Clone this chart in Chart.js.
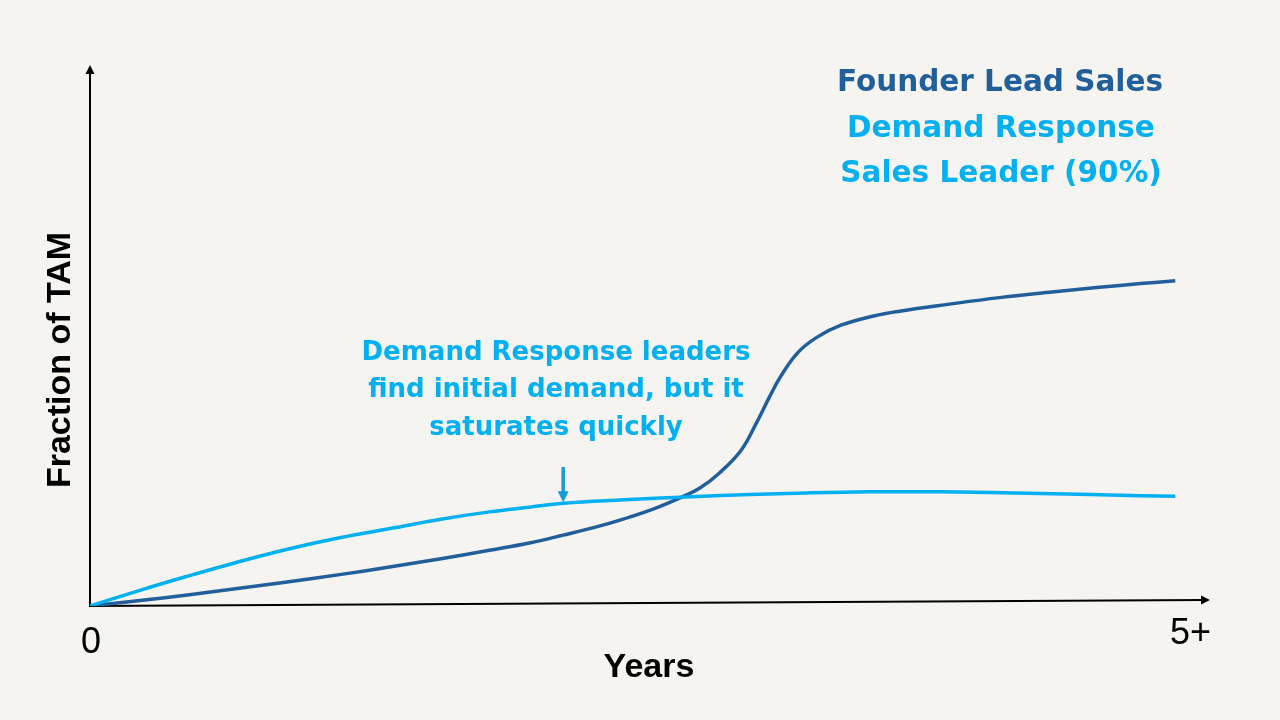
<!DOCTYPE html>
<html>
<head>
<meta charset="utf-8">
<script src="https://cdn.jsdelivr.net/npm/chart.js@4"></script>
<style>
  html, body { margin: 0; padding: 0; background: #f5f4f1; }
  #wrap { width: 1280px; height: 720px; position: relative; }
</style>
</head>
<body>
<div id="wrap"><canvas id="chart"></canvas></div>
<script>
// years since start, fraction of TAM
const founderYears = [0, 0.23, 0.44, 0.67, 0.90, 1.15, 1.38, 1.61, 1.84, 2.03, 2.18, 2.35, 2.46, 2.60, 2.73, 2.81, 2.90, 3.00, 3.07, 3.13, 3.18, 3.26, 3.35, 3.46, 3.61, 3.73, 3.96, 4.19, 4.42, 4.65, 4.84, 5.00];
const founderShare = [0, 0.010, 0.020, 0.032, 0.044, 0.058, 0.072, 0.087, 0.103, 0.117, 0.131, 0.148, 0.161, 0.180, 0.202, 0.218, 0.246, 0.288, 0.338, 0.386, 0.423, 0.468, 0.497, 0.519, 0.536, 0.545, 0.558, 0.570, 0.580, 0.589, 0.596, 0.601];

const demandYears = [0, 0.23, 0.44, 0.67, 0.90, 1.15, 1.41, 1.61, 1.84, 2.03, 2.18, 2.44, 2.77, 3.04, 3.30, 3.59, 3.92, 4.38, 4.84, 5.00];
const demandShare = [0, 0.029, 0.054, 0.080, 0.104, 0.126, 0.145, 0.160, 0.174, 0.183, 0.190, 0.196, 0.202, 0.206, 0.209, 0.211, 0.211, 0.208, 0.204, 0.203];

const xTickValues = [0, 5.07];
const xTickLabels = ['0', '5+'];

const titleLines = ['Founder Lead Sales', 'Demand Response', 'Sales Leader (90%)'];
const noteLines = ['Demand Response leaders', 'find initial demand, but it', 'saturates quickly'];
const noteArrow = { x: 2.18, from: 0.257, to: 0.192 };

const DARK = '#215f9a';
const LIGHT = '#00b0f0';
const BOLD = '"DejaVu Sans", sans-serif';

const toPoints = (xs, ys) => xs.map((v, i) => ({ x: v, y: ys[i] }));

const arrowHead = (ctx, tx, ty, angle, len, half) => {
    ctx.save();
    ctx.translate(tx, ty);
    ctx.rotate(angle);
    ctx.beginPath();
    ctx.moveTo(0, 0);
    ctx.lineTo(-len, -half);
    ctx.lineTo(-len, half);
    ctx.closePath();
    ctx.fill();
    ctx.restore();
};

const decor = {
    id: 'decor',
    beforeDraw(chart) {
        const ctx = chart.ctx;
        ctx.save();
        ctx.fillStyle = '#f5f4f1';
        ctx.fillRect(0, 0, chart.width, chart.height);
        ctx.restore();
    },
    beforeDatasetsDraw(chart) {
        const { ctx, scales: { x, y } } = chart;
        const x0 = x.getPixelForValue(0), y0 = y.getPixelForValue(0);
        const yTop = y.getPixelForValue(y.max);
        const xEnd = x.getPixelForValue(x.max), yEnd = y.getPixelForValue(0.011);
        ctx.save();
        ctx.strokeStyle = '#000';
        ctx.fillStyle = '#000';
        ctx.lineWidth = 2;
        ctx.beginPath();
        ctx.moveTo(x0, y0 + 1);
        ctx.lineTo(x0, yTop + 6);
        ctx.stroke();
        arrowHead(ctx, x0, yTop, -Math.PI / 2, 9, 4.5);
        const ang = Math.atan2(yEnd - y0, xEnd - x0);
        ctx.beginPath();
        ctx.moveTo(x0 - 1, y0);
        ctx.lineTo(xEnd - 6 * Math.cos(ang), yEnd - 6 * Math.sin(ang));
        ctx.stroke();
        arrowHead(ctx, xEnd, yEnd, ang, 9, 4.5);
        ctx.restore();
    },
    afterDraw(chart) {
        const { ctx, scales: { x, y } } = chart;
        const y0 = y.getPixelForValue(0);
        ctx.save();
        ctx.textAlign = 'center';
        ctx.textBaseline = 'middle';

        // tick labels
        ctx.fillStyle = '#000';
        ctx.font = '36px "Liberation Sans", Arial, sans-serif';
        ctx.fillText(xTickLabels[0], x.getPixelForValue(xTickValues[0]) + 1, y0 + 37);
        ctx.fillText(xTickLabels[1], x.getPixelForValue(xTickValues[1]), y0 + 28);

        // axis titles
        ctx.font = 'bold 34px "Liberation Sans", Arial, sans-serif';
        ctx.fillText('Years', 649, 668);
        ctx.save();
        ctx.translate(61, 360);
        ctx.rotate(-Math.PI / 2);
        ctx.fillText('Fraction of TAM', 0, 0);
        ctx.restore();

        // legend-like title block
        ctx.font = 'bold 29.5px ' + BOLD;
        ctx.fillStyle = DARK;
        ctx.fillText(titleLines[0], 1000, 83);
        ctx.fillStyle = LIGHT;
        ctx.fillText(titleLines[1], 1001, 129);
        ctx.fillText(titleLines[2], 1001, 174);

        // annotation
        ctx.font = 'bold 26px ' + BOLD;
        noteLines.forEach((t, i) => ctx.fillText(t, 556, 353 + i * 37.5));

        const ax = x.getPixelForValue(noteArrow.x);
        const ay1 = y.getPixelForValue(noteArrow.from), ay2 = y.getPixelForValue(noteArrow.to);
        ctx.strokeStyle = '#159bd7';
        ctx.fillStyle = '#159bd7';
        ctx.lineWidth = 3.5;
        ctx.beginPath();
        ctx.moveTo(ax, ay1);
        ctx.lineTo(ax, ay2 - 8);
        ctx.stroke();
        arrowHead(ctx, ax, ay2, Math.PI / 2, 11, 5.5);
        ctx.restore();
    }
};

new Chart(document.getElementById('chart').getContext('2d'), {
    type: 'line',
    data: {
        datasets: [
            { label: 'Demand Response Sales Leader (90%)', data: toPoints(demandYears, demandShare), borderColor: LIGHT, order: 0 },
            { label: 'Founder Lead Sales', data: toPoints(founderYears, founderShare), borderColor: DARK, order: 1 }
        ]
    },
    options: {
        responsive: true,
        maintainAspectRatio: false,
        animation: false,
        layout: { padding: { left: 90, right: 70, top: 65, bottom: 114 } },
        elements: {
            point: { radius: 0 },
            line: { borderWidth: 3.5, tension: 0.4, fill: false }
        },
        scales: {
            x: { type: 'linear', min: 0, max: 5.16, display: false },
            y: { type: 'linear', min: 0, max: 1, display: false }
        },
        plugins: { legend: false, tooltip: { enabled: false } }
    },
    plugins: [decor]
});
</script>
</body>
</html>
